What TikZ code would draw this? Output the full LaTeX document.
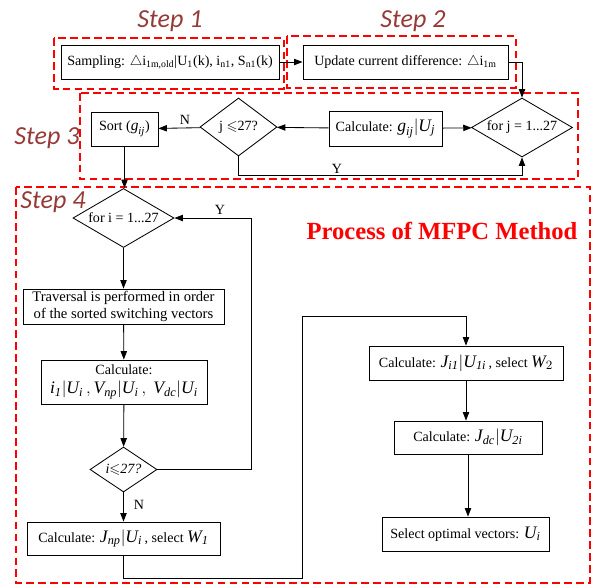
\documentclass[tikz,border=0pt]{standalone}
\usepackage{amsmath,amssymb}
\usepackage{fontspec}
\setmainfont{Liberation Serif}
\newfontfamily\stepfont{Carlito}
\usetikzlibrary{shapes.geometric,arrows.meta}
\definecolor{steprosso}{RGB}{150,58,55}
% variabili in corsivo Times, un po' piu' grandi del testo
\newcommand{\vx}[1]{\textit{#1}}
\newcommand{\grande}{\fontsize{12.5}{14}\selectfont}
\tikzset{
    blocco/.style={draw, line width=0.6pt, rectangle, inner sep=1pt, align=center, font=\fontsize{10}{12.5}\selectfont},
    rombo/.style={draw, line width=0.6pt, diamond, inner sep=0pt, font=\fontsize{10}{12}\selectfont},
    freccia/.style={line width=0.6pt, -{Triangle[length=6pt,width=4.5pt]}},
    tratteggio/.style={draw=red, line width=1.3pt, dash pattern=on 5.5pt off 3pt},
    passo/.style={font=\stepfont\itshape\fontsize{18.5}{20}\selectfont, text=steprosso},
    etichetta/.style={font=\fontsize{10}{12}\selectfont}
}
\begin{document}
\begin{tikzpicture}[x=0.025cm, y=-0.025cm]
    \useasboundingbox (0,0) rectangle (600,587);

    % Riquadri tratteggiati dei passi
    \foreach \xa/\ya/\xb/\yb in {54/38/284/89, 287/36/516/88, 80/93/578/179, 16/187/590/583} {
        \draw[tratteggio] (\xa,\ya) rectangle (\xb,\yb);
    }
    % Titoli dei passi
    \foreach \x/\y/\n in {170/21/1, 413/21/2, 47/138/3, 53/202/4} {
        \node[passo] (step\n) at (\x,\y) {Step \n};
    }
    \node[text=red, font=\bfseries\fontsize{17.5}{20}\selectfont] (titolo) at (442,231) {Process of MFPC Method};

    % Passi 1 e 2
    \node[blocco, minimum width=5.45cm, minimum height=0.85cm] (samp) at (170,62)
        {Sampling: $\bigtriangleup$i\textsubscript{1m,old}|U\textsubscript{1}(k), i\textsubscript{n1}, S\textsubscript{n1}(k)};
    \node[blocco, minimum width=5.125cm, minimum height=0.85cm] (upd) at (405.5,62)
        {Update current difference: $\bigtriangleup$i\textsubscript{1m}};

    % Passo 3
    \node[rombo, aspect=1.7, minimum width=2.525cm, minimum height=1.475cm] (forj) at (522,127.5) {for j = 1...27};
    \node[blocco, minimum width=2.825cm, minimum height=0.875cm] (calcg) at (385.5,128.5)
        {Calculate: {\grande$\vx{g}_{\vx{ij}}|\vx{U}_{\vx{j}}$}};
    \node[rombo, aspect=1.33, minimum width=1.925cm, minimum height=1.45cm] (jle) at (238.5,127) {j $\leqslant$27?};
    \node[blocco, minimum width=1.675cm, minimum height=0.85cm] (sort) at (124.5,129)
        {Sort ({\fontsize{11}{12}\selectfont$\vx{g}_{\vx{ij}}$})};

    % Passo 4, colonna di sinistra
    \node[rombo, aspect=1.7, minimum width=2.525cm, minimum height=1.475cm] (fori) at (123.5,218) {for i = 1...27};
    \node[blocco, minimum width=5.025cm, minimum height=0.875cm, inner sep=0pt, font=\fontsize{10.4}{12.5}\selectfont] (trav) at (123.5,306.5)
        {Traversal is performed in order\\of the sorted switching vectors};
    \node[blocco, minimum width=4.15cm, minimum height=1.1cm, inner sep=0pt] (calc1) at (124,382)
        {Calculate:\\[1pt]{\grande$\vx{i}_{\vx{1}}|\vx{U}_{\vx{i}}\,,\vx{V}_{\vx{np}}|\vx{U}_{\vx{i}}\,,\ \vx{V}_{\vx{dc}}|\vx{U}_{\vx{i}}$}};
    \node[rombo, aspect=1.49, minimum width=1.675cm, minimum height=1.125cm] (ile) at (123.5,469.5)
        {\vx{i}$\leqslant$\vx{27?}};
    \node[blocco, minimum width=4.825cm, minimum height=0.825cm] (jnp) at (123.5,538.5)
        {Calculate: {\grande$\vx{J}_{\vx{np}}|\vx{U}_{\vx{i}}$}\,, select {\grande$\vx{W}_{\vx{1}}$}};

    % Passo 4, colonna di destra
    \node[blocco, minimum width=4.85cm, minimum height=0.85cm] (ji1) at (466,363)
        {Calculate: {\grande$\vx{J}_{\vx{i1}}|\vx{U}_{\vx{1i}}$}\,, select {\grande$\vx{W}_{2}$}};
    \node[blocco, minimum width=3.7cm, minimum height=0.825cm] (jdc) at (468,437.5)
        {Calculate: {\grande$\vx{J}_{\vx{dc}}|\vx{U}_{\vx{2i}}$}};
    \node[blocco, minimum width=4.175cm, minimum height=0.85cm] (sel) at (465.5,534)
        {Select optimal vectors: {\grande$\vx{U}_{\vx{i}}$}};

    % Collegamenti
    \draw[freccia] (samp) -- (upd);
    \draw[freccia] (upd.east) -| (forj.north);
    \draw[freccia] (calcg) -- (forj);
    \draw[freccia] (calcg) -- (jle);
    \draw[freccia] (jle) -- (sort);
    \draw[freccia] (jle.south) -- (238.5,175) -| (forj.south);
    \draw[freccia] (sort.south) -- (fori.north -| sort.south);
    \draw[freccia] (fori) -- (trav);
    \draw[freccia] (trav) -- (calc1);
    \draw[freccia] (calc1) -- (ile);
    \draw[freccia] (ile.east) -- ++(94,0) |- (fori.east);
    \draw[freccia] (ile) -- (jnp);
    \draw[freccia] (jnp.south) |- (302,578) -- (302,316) -| (ji1.north);
    \draw[freccia] (ji1.south) -- (ji1.south |- jdc.north);
    \draw[freccia] (jdc.south) -- (jdc.south |- sel.north);

    % Etichette Y / N
    \node[etichetta] (n3) at (185,120) {N};
    \node[etichetta] (y3) at (337,169) {Y};
    \node[etichetta] (y4) at (220,210) {Y};
    \node[etichetta] (n4) at (139,505) {N};
\end{tikzpicture}
\end{document}
